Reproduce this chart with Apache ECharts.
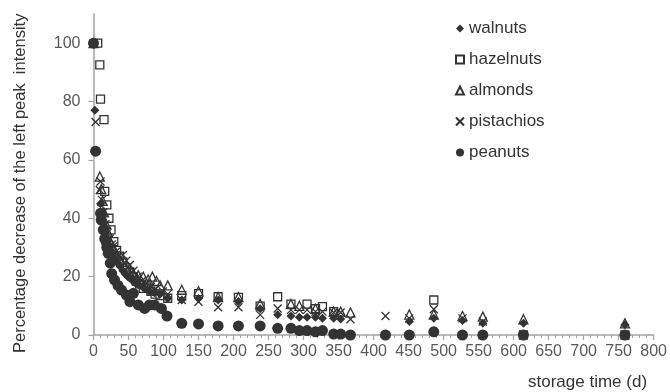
<!DOCTYPE html>
<html>
<head>
<meta charset="utf-8">
<script src="https://cdn.jsdelivr.net/npm/echarts@6/dist/echarts.min.js"></script>
<style>
html,body{margin:0;padding:0;background:#fff;}
#chart{width:670px;height:392px;}
</style>
</head>
<body>
<div id="chart"></div>
<script>
// ---- data (storage time in days, percentage values) ----
const walnutDays = [0, 2, 10, 12, 14, 17, 19, 21, 24, 28, 31, 35, 38, 42, 45, 49, 52, 56, 59, 63, 66, 70, 73, 77, 80, 87, 95, 106, 126, 150, 178, 207, 238, 263, 282, 294, 305, 317, 327, 343, 353, 451, 486, 527, 556, 614, 759];
const walnutVals = [100, 77, 45, 42, 38, 35, 33, 31, 29, 27, 26, 24.5, 23.5, 22, 21, 20, 19.5, 18.5, 18, 17.5, 17, 16.5, 16, 15.5, 15, 14.5, 14, 12.5, 12, 12.5, 12, 11.5, 9, 6.9, 6.5, 6.1, 6.1, 6.1, 5.7, 5.7, 5.5, 4.6, 5.7, 5, 4, 4, 3.5];

const hazelDays = [6, 9, 10, 15, 16, 19, 22, 25, 29, 33, 37, 42, 47, 52, 57, 61, 66, 71, 76, 82, 88, 95, 106, 126, 150, 178, 207, 238, 263, 282, 305, 317, 327, 343, 486, 614, 759];
const hazelVals = [100, 92.6, 80.8, 73.8, 49.2, 44.6, 40, 36, 32, 29, 27, 25, 23, 21.5, 20, 18.5, 17.5, 16, 16.5, 15, 14, 13.5, 12.6, 13.5, 14.2, 13.1, 12.9, 9.9, 13.1, 10.6, 10.6, 9, 9.7, 8, 12, 0, 0];

const almondDays = [0, 9, 11, 13, 15, 18, 21, 24, 28, 32, 36, 40, 45, 50, 57, 64, 71, 78, 84, 90, 95, 106, 126, 150, 178, 207, 238, 282, 294, 317, 343, 353, 367, 451, 486, 527, 556, 614, 759];
const almondVals = [100, 54.3, 50, 46, 42, 38, 35, 32, 30, 28, 26.5, 25, 23.5, 22, 21, 20.5, 20, 19, 20, 18.5, 17, 17, 15.5, 15, 13, 13, 10.6, 10.6, 10, 9, 8, 8, 7.7, 7, 7, 6.5, 6.3, 5.4, 4];

const pistachioDays = [0, 3, 9, 10, 12, 14, 17, 20, 23, 26, 28, 32, 36, 42, 47, 52, 57, 63, 69, 76, 82, 88, 99, 106, 126, 150, 178, 207, 238, 263, 282, 294, 305, 317, 327, 343, 353, 367, 417, 451, 486, 527, 556];
const pistachioVals = [100, 73, 49.7, 52.6, 46.3, 42, 38, 35, 33, 31, 30.3, 28.5, 27, 27.4, 25.5, 24, 22, 20, 18.5, 17.7, 16.5, 15.5, 14.9, 14, 12, 11.4, 9.5, 9.5, 6.9, 9.1, 8.6, 8.6, 8.6, 8, 8, 7.7, 7.7, 5.4, 6.5, 5.7, 8.8, 5.7, 4.6];

const peanutDays = [0, 3, 10, 11, 14, 16, 18, 19, 21, 24, 26, 30, 35, 40, 47, 52, 57, 64, 73, 80, 87, 97, 105, 126, 150, 178, 207, 238, 263, 282, 294, 305, 317, 327, 343, 353, 367, 417, 451, 486, 527, 556, 614, 759];
const peanutVals = [100, 63, 41.7, 39.4, 36, 33, 32, 30, 28, 24.6, 21, 18.9, 17, 15.4, 13.7, 11.4, 14.3, 10.3, 9.1, 10.3, 10.3, 9.1, 6.5, 4, 3.8, 3.1, 3.1, 3.1, 2.3, 2.3, 1.5, 1.5, 1.1, 1.5, 0.3, 0.3, 0, 0, 0, 1.1, 0, 0, 0, 0];

const seriesNames = ['walnuts', 'hazelnuts', 'almonds', 'pistachios', 'peanuts'];
const yTicks = [0, 20, 40, 60, 80, 100];
const xTicks = [0, 50, 100, 150, 200, 250, 300, 350, 400, 450, 500, 550, 600, 650, 700, 750, 800];

const yTitle = 'Percentage decrease of the left peak  intensity';
const xTitle = 'storage time (d)';

function pairs(d, v) { return d.map((x, i) => [x, v[i]]); }

const dark = '#333333';
const axisGray = '#a3a3a3';
const crossPath = 'path://M0,0L10,10M10,0L0,10';
const font = 'Liberation Sans, Arial, sans-serif';

const chart = echarts.init(document.getElementById('chart'), null, {renderer: 'canvas'});
chart.setOption({
  animation: false,
  backgroundColor: '#ffffff',
  grid: {left: 93.5, right: 14, top: 14, bottom: 57, containLabel: false},
  legend: {
    orient: 'vertical',
    left: 455,
    top: 20,
    padding: 0,
    itemWidth: 8,
    itemHeight: 8,
    itemGap: 14,
    textStyle: {fontFamily: font, fontSize: 17, color: '#333'},
    data: seriesNames
  },
  xAxis: {
    type: 'value',
    min: 0, max: 800, interval: 50,
    axisLine: {show: true, lineStyle: {color: axisGray, width: 1.5}},
    axisTick: {show: true, length: 5, lineStyle: {color: axisGray, width: 1.2}},
    minorTick: {show: true, splitNumber: 5, length: 3, lineStyle: {color: axisGray, width: 1}},
    splitLine: {show: false},
    axisLabel: {fontFamily: font, fontSize: 16, color: '#595959', margin: 9,
      formatter: v => xTicks.includes(v) ? String(v) : ''}
  },
  yAxis: {
    type: 'value',
    min: 0, max: 110, interval: 20,
    axisLine: {show: true, lineStyle: {color: axisGray, width: 1.5}},
    axisTick: {show: true, length: 5, lineStyle: {color: axisGray, width: 1.2}},
    splitLine: {show: false},
    axisLabel: {fontFamily: font, fontSize: 16, color: '#595959', margin: 13,
      showMaxLabel: false,
      formatter: v => yTicks.includes(v) ? String(v) : ''}
  },
  graphic: [
    {type: 'text', rotation: Math.PI / 2, x: 12, y: 353,
      style: {text: yTitle, fontFamily: font, fontSize: 16.5, fill: '#333'}},
    {type: 'text', x: 528, y: 374,
      style: {text: xTitle, fontFamily: font, fontSize: 17, fill: '#333'}}
  ],
  series: [
    {name: 'walnuts', type: 'scatter', data: pairs(walnutDays, walnutVals), symbol: 'diamond', symbolSize: 9,
      itemStyle: {color: dark, opacity: 1}},
    {name: 'hazelnuts', type: 'scatter', data: pairs(hazelDays, hazelVals), symbol: 'rect', symbolSize: 8,
      itemStyle: {color: 'rgba(255,255,255,0)', borderColor: dark, borderWidth: 1.3, opacity: 1}},
    {name: 'almonds', type: 'scatter', data: pairs(almondDays, almondVals), symbol: 'triangle', symbolSize: 9,
      itemStyle: {color: 'rgba(255,255,255,0)', borderColor: dark, borderWidth: 1.3, opacity: 1}},
    {name: 'pistachios', type: 'scatter', data: pairs(pistachioDays, pistachioVals), symbol: crossPath, symbolSize: 8,
      itemStyle: {color: 'rgba(255,255,255,0)', borderColor: dark, borderWidth: 1.3, opacity: 1}},
    {name: 'peanuts', type: 'scatter', data: pairs(peanutDays, peanutVals), symbol: 'circle', symbolSize: 11,
      itemStyle: {color: dark, opacity: 1}}
  ]
});
</script>
</body>
</html>
